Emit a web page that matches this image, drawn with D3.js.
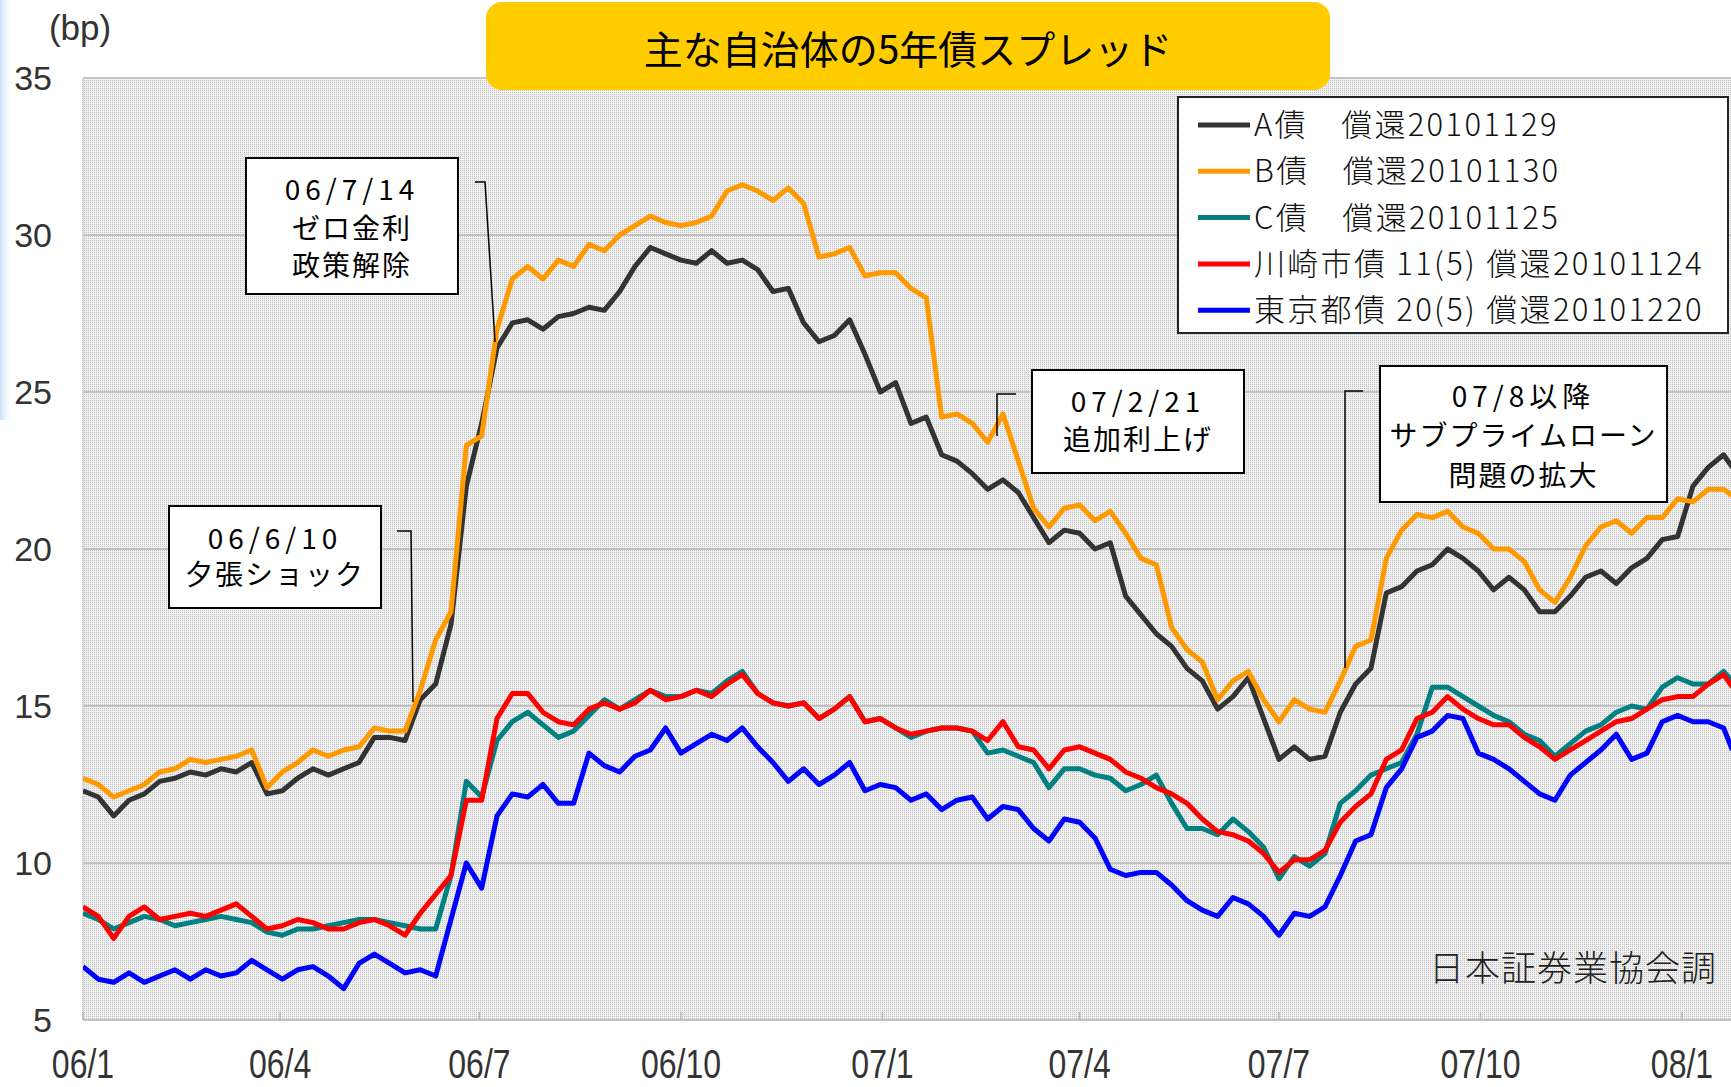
<!DOCTYPE html>
<html>
<head>
<meta charset="utf-8">
<script src="https://cdn.jsdelivr.net/npm/d3@7"></script>
<style>
  body { margin: 0; background: #fff; }
  svg { display: block; }
</style>
</head>
<body>
<div id="chart"></div>
<script>
// weekly observation dates (reading points)
const DATES = [
  '2006-01-01','2006-01-08','2006-01-15','2006-01-22','2006-01-29','2006-02-05','2006-02-12','2006-02-19','2006-02-26','2006-03-05',
  '2006-03-12','2006-03-19','2006-03-26','2006-04-02','2006-04-09','2006-04-16','2006-04-23','2006-04-30','2006-05-07','2006-05-14',
  '2006-05-21','2006-05-28','2006-06-04','2006-06-11','2006-06-18','2006-06-25','2006-07-02','2006-07-09','2006-07-16','2006-07-23',
  '2006-07-30','2006-08-06','2006-08-13','2006-08-20','2006-08-27','2006-09-03','2006-09-10','2006-09-17','2006-09-24','2006-10-01',
  '2006-10-08','2006-10-15','2006-10-22','2006-10-29','2006-11-05','2006-11-12','2006-11-19','2006-11-26','2006-12-03','2006-12-10',
  '2006-12-17','2006-12-24','2006-12-31','2007-01-07','2007-01-14','2007-01-21','2007-01-28','2007-02-04','2007-02-11','2007-02-18',
  '2007-02-25','2007-03-04','2007-03-11','2007-03-18','2007-03-25','2007-04-01','2007-04-08','2007-04-15','2007-04-22','2007-04-29',
  '2007-05-06','2007-05-13','2007-05-20','2007-05-27','2007-06-03','2007-06-10','2007-06-17','2007-06-24','2007-07-01','2007-07-08',
  '2007-07-15','2007-07-22','2007-07-29','2007-08-05','2007-08-12','2007-08-19','2007-08-26','2007-09-02','2007-09-09','2007-09-16',
  '2007-09-23','2007-09-30','2007-10-07','2007-10-14','2007-10-21','2007-10-28','2007-11-04','2007-11-11','2007-11-18','2007-11-25',
  '2007-12-02','2007-12-09','2007-12-16','2007-12-23','2007-12-30','2008-01-06','2008-01-13','2008-01-20','2008-01-24'
];

const BOND_A = [
  12.3, 12.1, 11.5, 12.0, 12.2, 12.6, 12.7, 12.9, 12.8, 13.0,
  12.9, 13.2, 12.2, 12.3, 12.7, 13.0, 12.8, 13.0, 13.2, 14.0,
  14.0, 13.9, 15.2, 15.7, 17.6, 22.0, 24.0, 26.4, 27.2, 27.3,
  27.0, 27.4, 27.5, 27.7, 27.6, 28.2, 29.0, 29.6, 29.4, 29.2,
  29.1, 29.5, 29.1, 29.2, 28.9, 28.2, 28.3, 27.2, 26.6, 26.8,
  27.3, 26.2, 25.0, 25.3, 24.0, 24.2, 23.0, 22.8, 22.4, 21.9,
  22.2, 21.8, 21.0, 20.2, 20.6, 20.5, 20.0, 20.2, 18.5, 17.9,
  17.3, 16.9, 16.2, 15.8, 14.9, 15.3, 15.9, 14.6, 13.3, 13.7,
  13.3, 13.4, 14.8, 15.7, 16.2, 18.6, 18.8, 19.3, 19.5, 20.0,
  19.7, 19.3, 18.7, 19.1, 18.7, 18.0, 18.0, 18.5, 19.1, 19.3,
  18.9, 19.4, 19.7, 20.3, 20.4, 22.0, 22.6, 23.0, 22.6
];
const BOND_B = [
  12.7, 12.5, 12.1, 12.3, 12.5, 12.9, 13.0, 13.3, 13.2, 13.3,
  13.4, 13.6, 12.4, 12.9, 13.2, 13.6, 13.4, 13.6, 13.7, 14.3,
  14.2, 14.2, 15.5, 17.1, 18.0, 23.3, 23.6, 27.0, 28.6, 29.0,
  28.6, 29.2, 29.0, 29.7, 29.5, 30.0, 30.3, 30.6, 30.4, 30.3,
  30.4, 30.6, 31.4, 31.6, 31.4, 31.1, 31.5, 31.0, 29.3, 29.4,
  29.6, 28.7, 28.8, 28.8, 28.3, 28.0, 24.2, 24.3, 24.0, 23.4,
  24.3, 22.8, 21.3, 20.7, 21.3, 21.4, 20.9, 21.2, 20.5, 19.7,
  19.5, 17.5, 16.8, 16.4, 15.2, 15.8, 16.1, 15.2, 14.5, 15.2,
  14.9, 14.8, 15.8, 16.9, 17.1, 19.7, 20.6, 21.1, 21.0, 21.2,
  20.7, 20.5, 20.0, 20.0, 19.6, 18.7, 18.3, 19.1, 20.1, 20.7,
  20.9, 20.5, 21.0, 21.0, 21.6, 21.5, 21.9, 21.9, 21.7
];
const BOND_C = [
  8.4, 8.2, 7.9, 8.1, 8.3, 8.2, 8.0, 8.1, 8.2, 8.3,
  8.2, 8.1, 7.8, 7.7, 7.9, 7.9, 8.0, 8.1, 8.2, 8.2,
  8.1, 8.0, 7.9, 7.9, 9.6, 12.6, 12.1, 13.9, 14.5, 14.8,
  14.4, 14.0, 14.2, 14.7, 15.2, 14.9, 15.2, 15.5, 15.3, 15.3,
  15.5, 15.4, 15.8, 16.1, 15.4, 15.1, 15.0, 15.1, 14.6, 14.9,
  15.3, 14.5, 14.6, 14.3, 14.0, 14.2, 14.3, 14.3, 14.2, 13.5,
  13.6, 13.4, 13.2, 12.4, 13.0, 13.0, 12.8, 12.7, 12.3, 12.5,
  12.8, 11.9, 11.1, 11.1, 10.9, 11.4, 11.0, 10.5, 9.5, 10.2,
  9.9, 10.3, 11.9, 12.3, 12.8, 13.0, 13.2, 14.1, 15.6, 15.6,
  15.3, 15.0, 14.7, 14.5, 14.1, 13.9, 13.4, 13.8, 14.2, 14.4,
  14.8, 15.0, 14.9, 15.6, 15.9, 15.7, 15.7, 16.1, 15.8
];
const KAWASAKI = [
  8.6, 8.3, 7.6, 8.3, 8.6, 8.2, 8.3, 8.4, 8.3, 8.5,
  8.7, 8.3, 7.9, 8.0, 8.2, 8.1, 7.9, 7.9, 8.1, 8.2,
  8.0, 7.7, 8.4, 9.0, 9.6, 12.0, 12.0, 14.6, 15.4, 15.4,
  14.8, 14.5, 14.4, 14.9, 15.1, 14.9, 15.1, 15.5, 15.2, 15.3,
  15.5, 15.3, 15.7, 16.0, 15.4, 15.1, 15.0, 15.1, 14.6, 14.9,
  15.3, 14.5, 14.6, 14.3, 14.1, 14.2, 14.3, 14.3, 14.2, 13.9,
  14.5, 13.7, 13.6, 13.0, 13.6, 13.7, 13.5, 13.3, 12.9, 12.7,
  12.4, 12.2, 11.9, 11.4, 11.0, 10.9, 10.7, 10.3, 9.7, 10.1,
  10.1, 10.4, 11.3, 11.8, 12.2, 13.3, 13.6, 14.6, 14.8, 15.3,
  14.9, 14.6, 14.4, 14.4, 14.0, 13.7, 13.3, 13.6, 13.9, 14.2,
  14.5, 14.6, 14.9, 15.2, 15.3, 15.3, 15.7, 16.0, 15.6
];
const TOKYO = [
  6.7, 6.3, 6.2, 6.5, 6.2, 6.4, 6.6, 6.3, 6.6, 6.4,
  6.5, 6.9, 6.6, 6.3, 6.6, 6.7, 6.4, 6.0, 6.8, 7.1,
  6.8, 6.5, 6.6, 6.4, 8.2, 10.0, 9.2, 11.5, 12.2, 12.1,
  12.5, 11.9, 11.9, 13.5, 13.1, 12.9, 13.4, 13.6, 14.3, 13.5,
  13.8, 14.1, 13.9, 14.3, 13.7, 13.2, 12.6, 13.0, 12.5, 12.8,
  13.2, 12.3, 12.5, 12.4, 12.0, 12.2, 11.7, 12.0, 12.1, 11.4,
  11.8, 11.7, 11.1, 10.7, 11.4, 11.3, 10.8, 9.8, 9.6, 9.7,
  9.7, 9.3, 8.8, 8.5, 8.3, 8.9, 8.7, 8.3, 7.7, 8.4,
  8.3, 8.6, 9.6, 10.7, 10.9, 12.4, 13.0, 14.0, 14.2, 14.7,
  14.6, 13.5, 13.3, 13.0, 12.6, 12.2, 12.0, 12.8, 13.2, 13.6,
  14.1, 13.3, 13.5, 14.5, 14.7, 14.5, 14.5, 14.3, 13.6
];

const SERIES_NAMES = [
  'A債　償還20101129',
  'B債　償還20101130',
  'C債　償還20101125',
  '川崎市債 11(5) 償還20101124',
  '東京都債 20(5) 償還20101220'
];
const SERIES_COLORS = ['#333333', '#ff9900', '#008080', '#ff0000', '#0000ff'];

const TICK_DATES = ['2006-01-01','2006-04-01','2006-07-01','2006-10-01','2007-01-01','2007-04-01','2007-07-01','2007-10-01','2008-01-01'];
const TICK_LABELS = ['06/1','06/4','06/7','06/10','07/1','07/4','07/7','07/10','08/1'];
const Y_TICKS = [5, 10, 15, 20, 25, 30, 35];

const TITLE = '主な自治体の5年債スプレッド';
const UNIT = '(bp)';
const SOURCE = '日本証券業協会調';
const NOTES = [
  ['06/7/14', 'ゼロ金利', '政策解除'],
  ['06/6/10', '夕張ショック'],
  ['07/2/21', '追加利上げ'],
  ['07/8以降', 'サブプライムローン', '問題の拡大']
];

const W = 1731, H = 1087;
const LEFT = 83, TOP = 78, BOTTOM = 1020, RIGHT = 1731;
const JP = '"Noto Sans CJK JP", "Noto Sans", sans-serif';
const NUM = '"Liberation Sans", Arial, sans-serif';

const parse = d3.utcParse('%Y-%m-%d');
const dates = DATES.map(parse);
const allSeries = [BOND_A, BOND_B, BOND_C, KAWASAKI, TOKYO];

const svg = d3.select('#chart').append('svg')
  .attr('width', W).attr('height', H);

const defs = svg.append('defs');
const pat = defs.append('pattern')
  .attr('id', 'dots').attr('patternUnits', 'userSpaceOnUse')
  .attr('width', 2).attr('height', 2);
pat.append('rect').attr('width', 2).attr('height', 2).attr('fill', '#efefef');
pat.append('rect').attr('width', 1).attr('height', 1).attr('fill', '#c4c4c4');

const grad = defs.append('linearGradient').attr('id', 'edge')
  .attr('x1', 0).attr('x2', 1).attr('y1', 0).attr('y2', 0);
grad.append('stop').attr('offset', 0).attr('stop-color', '#c9def5');
grad.append('stop').attr('offset', 1).attr('stop-color', '#ffffff').attr('stop-opacity', 0);

defs.append('clipPath').attr('id', 'plotclip')
  .append('rect').attr('x', LEFT).attr('y', TOP - 4)
  .attr('width', RIGHT - LEFT).attr('height', BOTTOM - TOP + 4);

// left edge tint
svg.append('rect').attr('x', 0).attr('y', 0).attr('width', 14).attr('height', 420)
  .attr('fill', 'url(#edge)');

const x = d3.scaleUtc()
  .domain([parse('2006-01-01'), parse('2008-01-01')])
  .range([LEFT, 1682]);
const y = d3.scaleLinear().domain([5, 35]).range([BOTTOM, TOP]);

// plot background
svg.append('rect')
  .attr('x', LEFT).attr('y', TOP)
  .attr('width', RIGHT - LEFT).attr('height', BOTTOM - TOP)
  .attr('fill', 'url(#dots)');

// gridlines
svg.append('g').selectAll('line').data(Y_TICKS).join('line')
  .attr('x1', LEFT).attr('x2', RIGHT)
  .attr('y1', d => y(d)).attr('y2', d => y(d))
  .attr('stroke', '#c2c2c2').attr('stroke-width', 2);

svg.append('line')
  .attr('x1', LEFT).attr('x2', LEFT).attr('y1', TOP).attr('y2', BOTTOM)
  .attr('stroke', '#d0d0d0').attr('stroke-width', 1.5);

// x tick marks
svg.append('g').selectAll('line').data(TICK_DATES).join('line')
  .attr('x1', d => x(parse(d))).attr('x2', d => x(parse(d)))
  .attr('y1', BOTTOM - 8).attr('y2', BOTTOM)
  .attr('stroke', '#b8b8b8').attr('stroke-width', 1.5);

// y labels
svg.append('g').selectAll('text').data(Y_TICKS).join('text')
  .attr('x', 52).attr('y', d => y(d))
  .attr('dy', '0.36em')
  .attr('text-anchor', 'end')
  .attr('font-family', NUM).attr('font-size', 34)
  .attr('fill', '#333')
  .text(d => d);

// x labels
svg.append('g').selectAll('text').data(TICK_DATES).join('text')
  .attr('transform', d => `translate(${x(parse(d))},1078) scale(0.8,1)`)
  .attr('text-anchor', 'middle')
  .attr('font-family', NUM).attr('font-size', 40)
  .attr('fill', '#333')
  .text((d, i) => TICK_LABELS[i]);

svg.append('text')
  .attr('x', 80).attr('y', 40)
  .attr('text-anchor', 'middle')
  .attr('font-family', NUM).attr('font-size', 35)
  .attr('fill', '#333')
  .text(UNIT);

// series
const line = d3.line()
  .x((d, i) => x(dates[i]))
  .y(d => y(d));

svg.append('g').attr('clip-path', 'url(#plotclip)')
  .selectAll('path').data(allSeries).join('path')
  .attr('d', line)
  .attr('fill', 'none')
  .attr('stroke', (d, i) => SERIES_COLORS[i])
  .attr('stroke-width', 5)
  .attr('stroke-linejoin', 'round');

// source
svg.append('text')
  .attr('x', 1717).attr('y', 981)
  .attr('text-anchor', 'end')
  .attr('font-family', JP).attr('font-size', 35).attr('font-weight', 300)
  .attr('letter-spacing', 1)
  .attr('fill', '#222')
  .text(SOURCE);

// title
svg.append('rect')
  .attr('x', 486).attr('y', 2).attr('width', 844).attr('height', 88)
  .attr('rx', 16).attr('fill', '#ffcc00');
svg.append('text')
  .attr('x', 908).attr('y', 50).attr('dy', '0.35em')
  .attr('text-anchor', 'middle')
  .attr('font-family', JP).attr('font-size', 39)
  .attr('fill', '#000')
  .text(TITLE);

// legend
const lg = svg.append('g').attr('transform', 'translate(1178,97)');
lg.append('rect').attr('width', 550).attr('height', 236)
  .attr('fill', '#fff').attr('stroke', '#222').attr('stroke-width', 2);
const rows = lg.selectAll('g').data(SERIES_NAMES).join('g')
  .attr('transform', (d, i) => `translate(0,${28 + i * 46.3})`);
rows.append('line').attr('x1', 20).attr('x2', 72)
  .attr('stroke', (d, i) => SERIES_COLORS[i]).attr('stroke-width', 5);
rows.append('text').attr('x', 76).attr('dy', '0.36em')
  .attr('font-family', JP).attr('font-size', 31).attr('font-weight', 300)
  .attr('letter-spacing', 2.3)
  .attr('fill', '#111')
  .text(d => d);

// annotation boxes
function note(lines, bx, by, bw, bh, lineYs, leader) {
  const g = svg.append('g');
  g.append('path').attr('d', d3.line()(leader))
    .attr('fill', 'none').attr('stroke', '#000').attr('stroke-width', 1.5);
  g.append('rect').attr('x', bx).attr('y', by).attr('width', bw).attr('height', bh)
    .attr('fill', '#fff').attr('stroke', '#000').attr('stroke-width', 2);
  g.selectAll('text').data(lines).join('text')
    .attr('x', bx + bw / 2).attr('y', (d, i) => lineYs[i]).attr('dy', '0.36em')
    .attr('text-anchor', 'middle')
    .attr('font-family', JP).attr('font-size', 28)
    .attr('letter-spacing', (d, i) => i === 0 ? 5 : 2)
    .attr('fill', '#000')
    .text(d => d);
}
note(NOTES[0], 246, 158, 212, 136, [190, 229, 266], [[475, 182], [485, 182], [495, 342]]);
note(NOTES[1], 169, 506, 212, 102, [539, 575], [[397, 531], [411, 531], [413, 702]]);
note(NOTES[2], 1032, 370, 212, 103, [402, 440], [[1016, 394], [997, 394], [997, 436]]);
note(NOTES[3], 1380, 366, 287, 136, [397, 436, 476], [[1363, 391], [1345, 391], [1345, 668]]);
</script>
</body>
</html>
